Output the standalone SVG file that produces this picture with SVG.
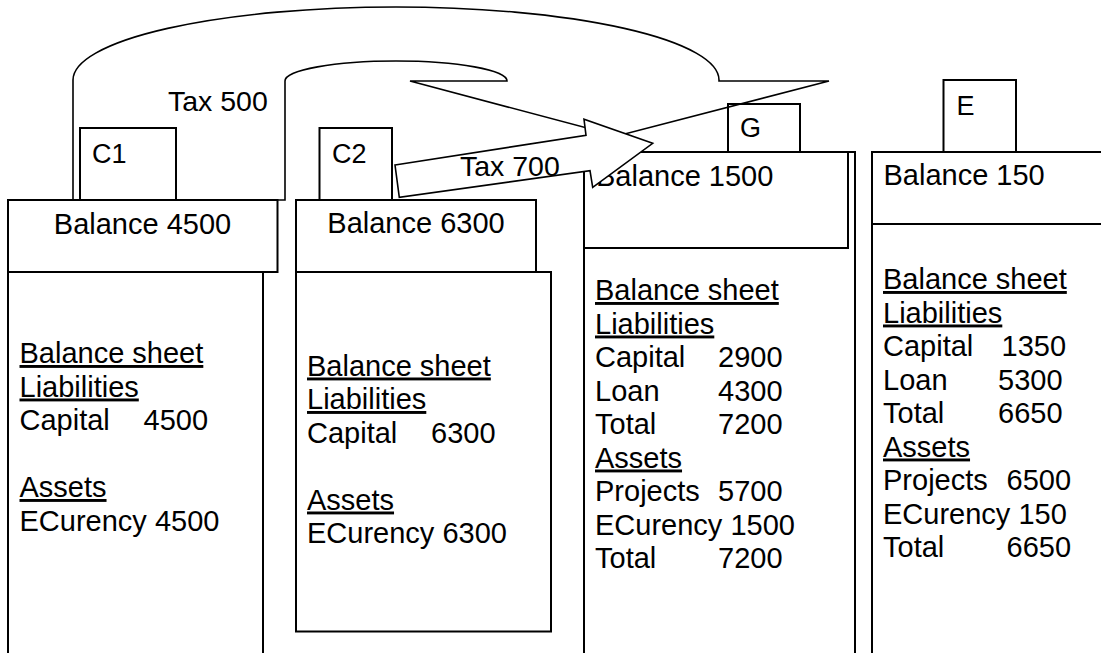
<svg xmlns="http://www.w3.org/2000/svg" width="1101" height="653" viewBox="0 0 1101 653">
<style>
.b{fill:#fff;stroke:#000;stroke-width:2}
.n{fill:none;stroke:#000;stroke-width:2}
.t{font-family:"Liberation Sans",Arial,sans-serif;font-size:29px;fill:#000}
.l{font-size:27px}
.x{font-size:28.5px}
.m{text-anchor:middle}
.u{text-decoration:underline}
.c{fill:none;stroke:#000;stroke-width:1.6;stroke-linejoin:miter}
.a{fill:#fff;stroke:#000;stroke-width:1.6;stroke-linejoin:miter}
</style>
<rect width="1101" height="653" fill="#fff"/>

<g id="node-c1">
  <rect class="b" x="8" y="272" width="255" height="400"/>
  <rect class="b" x="8" y="200" width="269.5" height="72"/>
  <rect class="b" x="80" y="128" width="96" height="72"/>
  <text class="t l" x="92" y="163">C1</text>
  <text class="t m" x="142.5" y="234">Balance 4500</text>
  <text class="t u" x="19.5" y="363">Balance sheet</text>
  <text class="t u" x="19.5" y="396.5">Liabilities</text>
  <text class="t" x="19.5" y="430">Capital</text>
  <text class="t" x="143.5" y="430">4500</text>
  <text class="t u" x="19.5" y="497">Assets</text>
  <text class="t" x="19.5" y="530.5">ECurency 4500</text>
</g>

<g id="node-c2">
  <rect class="b" x="296" y="272" width="255" height="359.5"/>
  <rect class="b" x="296" y="200" width="240" height="72"/>
  <rect class="b" x="319.5" y="128" width="72.5" height="72"/>
  <text class="t l" x="332" y="163">C2</text>
  <text class="t m" x="416" y="233">Balance 6300</text>
  <text class="t u" x="307" y="375.5">Balance sheet</text>
  <text class="t u" x="307" y="409">Liabilities</text>
  <text class="t" x="307" y="442.5">Capital</text>
  <text class="t" x="431" y="442.5">6300</text>
  <text class="t u" x="307" y="509.5">Assets</text>
  <text class="t" x="307" y="543">ECurency 6300</text>
</g>

<g id="node-g">
  <rect class="b" x="584" y="152" width="271" height="520"/>
  <rect class="b" x="584" y="152" width="264" height="96"/>
  <rect class="b" x="728" y="104" width="72" height="48"/>
  <text class="t l" x="740" y="137">G</text>
  <text class="t" x="596" y="186">Balance 1500</text>
  <text class="t u" x="595" y="300">Balance sheet</text>
  <text class="t u" x="595" y="333.5">Liabilities</text>
  <text class="t" x="595" y="367">Capital</text>
  <text class="t" x="718" y="367">2900</text>
  <text class="t" x="595" y="400.5">Loan</text>
  <text class="t" x="718" y="400.5">4300</text>
  <text class="t" x="595" y="434">Total</text>
  <text class="t" x="718" y="434">7200</text>
  <text class="t u" x="595" y="467.5">Assets</text>
  <text class="t" x="595" y="501">Projects</text>
  <text class="t" x="718" y="501">5700</text>
  <text class="t" x="595" y="534.5">ECurency 1500</text>
  <text class="t" x="595" y="568">Total</text>
  <text class="t" x="718" y="568">7200</text>
</g>

<g id="node-e">
  <rect class="b" x="872" y="224" width="250" height="450"/>
  <rect class="b" x="872" y="152" width="250" height="72"/>
  <rect class="b" x="943.5" y="80" width="72.5" height="72"/>
  <text class="t l" x="956.5" y="115">E</text>
  <text class="t" x="883.5" y="185">Balance 150</text>
  <text class="t u" x="883" y="289">Balance sheet</text>
  <text class="t u" x="883" y="322.5">Liabilities</text>
  <text class="t" x="883" y="356">Capital</text>
  <text class="t" x="1001.5" y="356">1350</text>
  <text class="t" x="883" y="389.5">Loan</text>
  <text class="t" x="998" y="389.5">5300</text>
  <text class="t" x="883" y="423">Total</text>
  <text class="t" x="998" y="423">6650</text>
  <text class="t u" x="883" y="456.5">Assets</text>
  <text class="t" x="883" y="490">Projects</text>
  <text class="t" x="1006.5" y="490">6500</text>
  <text class="t" x="883" y="523.5">ECurency 150</text>
  <text class="t" x="883" y="557">Total</text>
  <text class="t" x="1006.5" y="557">6650</text>
</g>

<g id="connectors">
  <path id="tax500" class="c" d="M73,200 V80 A323,73 0 0 1 719,80 V81 H829 L617,136 L410,81 H507 A111,20 0 0 0 285,81 V200 Z"/>
  <text class="t x" x="168" y="111">Tax 500</text>
  <path id="tax700" class="a" d="M395,165 L586,135.3 L584,119.3 L652.7,143.3 L592.7,187.3 L590,170.7 L399.3,197.3 Z"/>
  <text class="t x" x="460" y="176">Tax 700</text>
</g>
</svg>
